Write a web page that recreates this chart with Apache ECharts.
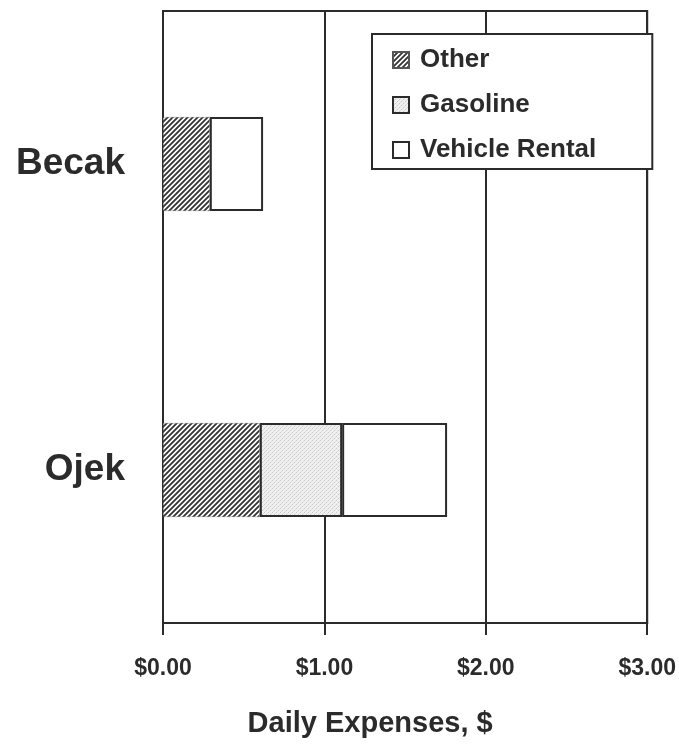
<!DOCTYPE html>
<html>
<head>
<meta charset="utf-8">
<script src="https://cdn.jsdelivr.net/npm/echarts@6/dist/echarts.min.js"></script>
<style>
  html, body { margin: 0; padding: 0; background: #fff; }
  #chart { width: 679px; height: 745px; }
</style>
</head>
<body>
<div id="chart"></div>
<script>
// categories (top to bottom) and stacked daily expense values, $
const categories = ['Becak', 'Ojek']
const otherCost = [0.29, 0.60]
const gasolineCost = [null, 0.51]
const rentalCost = [0.33, 0.65]
const xTicks = [0, 1, 2, 3]

const ink = '#2b2b2b'
const font = '"Liberation Sans", Arial, sans-serif'

// diagonal hatching for "Other"
const makeHatch = () => {
  const c = document.createElement('canvas')
  c.width = 5
  c.height = 5
  const ctx = c.getContext('2d')
  ctx.fillStyle = '#fff'
  ctx.fillRect(0, 0, 5, 5)
  ctx.strokeStyle = '#333'
  ctx.lineWidth = 1.8
  ctx.beginPath()
  ctx.moveTo(-1, 6); ctx.lineTo(6, -1)
  ctx.moveTo(-1, 1); ctx.lineTo(1, -1)
  ctx.moveTo(4, 6); ctx.lineTo(6, 4)
  ctx.stroke()
  return c
}

// light stipple for "Gasoline"
const makeStipple = () => {
  const c = document.createElement('canvas')
  c.width = 4
  c.height = 4
  const ctx = c.getContext('2d')
  ctx.fillStyle = '#f0f0f0'
  ctx.fillRect(0, 0, 4, 4)
  ctx.fillStyle = '#c8c8c8'
  ctx.fillRect(0, 0, 1, 1)
  ctx.fillRect(2, 2, 1, 1)
  ctx.fillStyle = '#dcdcdc'
  ctx.fillRect(1, 3, 1, 1)
  ctx.fillRect(3, 1, 1, 1)
  return c
}

const myChart = echarts.init(document.getElementById('chart'))

const option = {
  animation: false,
  backgroundColor: '#fff',
  textStyle: {fontFamily: font},
  grid: {
    left: 163,
    right: 31,
    top: 11,
    bottom: 122,
    show: true,
    borderColor: ink,
    borderWidth: 2,
    backgroundColor: '#fff'
  },
  legend: {
    orient: 'vertical',
    left: 372,
    top: 34,
    padding: [13, 56, 6, 20],
    itemGap: 19,
    itemWidth: 16,
    itemHeight: 16,
    icon: 'rect',
    borderColor: ink,
    borderWidth: 2,
    backgroundColor: '#fff',
    textStyle: {
      fontFamily: font,
      fontSize: 26,
      fontWeight: 'bold',
      color: ink,
      padding: [0, 0, 0, 6]
    },
    data: ['Other', 'Gasoline', 'Vehicle Rental']
  },
  xAxis: {
    type: 'value',
    min: xTicks[0],
    max: xTicks[xTicks.length - 1],
    interval: 1,
    name: 'Daily Expenses, $',
    nameLocation: 'middle',
    nameGap: 86,
    nameTextStyle: {
      fontFamily: font,
      fontSize: 29,
      fontWeight: 'bold',
      color: ink,
      padding: [0, 70, 0, 0]
    },
    axisLine: {show: true, lineStyle: {color: ink, width: 2}},
    axisTick: {show: true, length: 12, lineStyle: {color: ink, width: 2}},
    splitLine: {show: true, lineStyle: {color: ink, width: 2}},
    axisLabel: {
      margin: 34,
      fontFamily: font,
      fontSize: 23,
      fontWeight: 'bold',
      color: ink,
      formatter: (v) => '$' + v.toFixed(2)
    }
  },
  yAxis: {
    type: 'category',
    inverse: true,
    data: categories,
    axisLine: {show: true, lineStyle: {color: ink, width: 2}},
    axisTick: {show: false},
    axisLabel: {
      margin: 38,
      fontFamily: font,
      fontSize: 37,
      fontWeight: 'bold',
      color: ink
    }
  },
  series: [
    {
      name: 'Other',
      type: 'bar',
      stack: 'total',
      barWidth: 94,
      data: otherCost,
      itemStyle: {
        color: {image: makeHatch(), repeat: 'repeat'},
        borderColor: '#555',
        borderWidth: 0.6,
        borderType: 'dotted'
      }
    },
    {
      name: 'Gasoline',
      type: 'bar',
      stack: 'total',
      barWidth: 94,
      data: gasolineCost,
      itemStyle: {
        color: {image: makeStipple(), repeat: 'repeat'},
        borderColor: ink,
        borderWidth: 2
      }
    },
    {
      name: 'Vehicle Rental',
      type: 'bar',
      stack: 'total',
      barWidth: 94,
      data: rentalCost,
      itemStyle: {
        color: '#fff',
        borderColor: ink,
        borderWidth: 2
      }
    }
  ]
}

myChart.setOption(option)
</script>
</body>
</html>
